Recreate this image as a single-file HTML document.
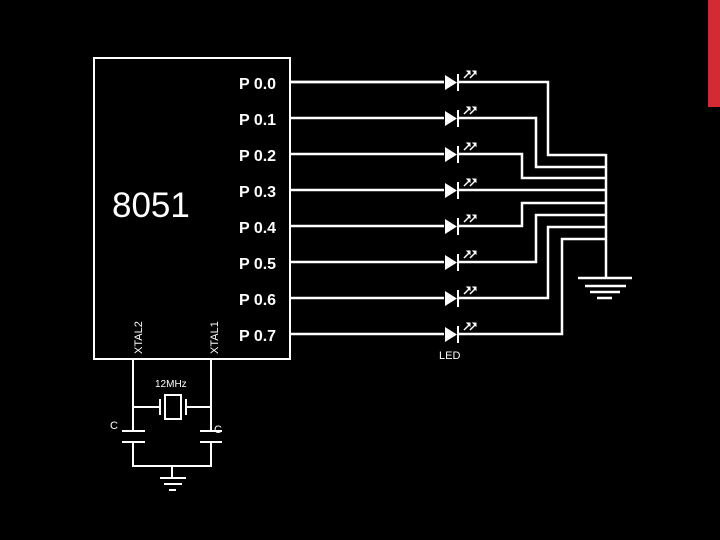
<!DOCTYPE html>
<html><head><meta charset="utf-8"><style>
html,body{margin:0;padding:0;background:#000;width:720px;height:540px;overflow:hidden}
svg{display:block}
text{font-family:"Liberation Sans",sans-serif;fill:#fff}
</style></head><body>
<svg width="720" height="540" viewBox="0 0 720 540" xmlns="http://www.w3.org/2000/svg">
<rect x="708" y="0" width="12" height="107" fill="#d42a34"/>
<rect x="94" y="58" width="196" height="301" fill="none" stroke="#fff" stroke-width="2"/>
<text x="112" y="217" font-size="35">8051</text>
<g font-size="16" font-weight="bold">
<text x="239" y="89">P 0.0</text><text x="239" y="125">P 0.1</text><text x="239" y="161">P 0.2</text><text x="239" y="197">P 0.3</text>
<text x="239" y="233">P 0.4</text><text x="239" y="269">P 0.5</text><text x="239" y="305">P 0.6</text><text x="239" y="341">P 0.7</text>
</g>
<text transform="translate(142,354) rotate(-90)" font-size="11">XTAL2</text>
<text transform="translate(218,354) rotate(-90)" font-size="11">XTAL1</text>
<g stroke="#fff" stroke-width="2.5" fill="none">
<polyline points="290,82 444,82 M458,82"/>
<path d="M290,82H444 M458,82H548V155H606"/>
<path d="M290,118H444 M458,118H536V167H606"/>
<path d="M290,154H444 M458,154H522V178H606"/>
<path d="M290,190H444 M458,190H606"/>
<path d="M290,226H444 M458,226H522V203H606"/>
<path d="M290,262H444 M458,262H536V215H606"/>
<path d="M290,298H444 M458,298H548V227H606"/>
<path d="M290,334H444 M458,334H562V239H606"/>
<path d="M606,154V278 M578,278H632 M585,286H626 M590,292H620 M597,298H612"/>
</g>
<g fill="#fff" stroke="#fff">
<g id="led">
<polygon points="445,75 445,90 457,82.5" stroke="none"/>
<line x1="458" y1="74" x2="458" y2="91" stroke-width="2"/>
<path d="M464,78 L470,72 M470,78 L476,72" stroke-width="1.5"/>
<path d="M467,71h3v3z M473,71h3v3z" stroke-width="1"/>
</g>
<use href="#led" y="36"/><use href="#led" y="72"/><use href="#led" y="108"/><use href="#led" y="144"/><use href="#led" y="180"/><use href="#led" y="216"/><use href="#led" y="252"/>
</g>
<text x="439" y="359" font-size="11">LED</text>
<g stroke="#fff" stroke-width="2" fill="none">
<path d="M133,359V431 M133,443V466H211V443 M211,431V359"/>
<path d="M122,431H145 M122,442H145 M200,431H222 M200,442H222"/>
<path d="M133,407H160 M160,399V415 M186,399V415 M186,407H211"/>
<rect x="165" y="395" width="16" height="24"/>
<path d="M172,466V478 M160,478H186 M164,484H182 M169,490H176"/>
</g>
<text x="155" y="387" font-size="10">12MHz</text>
<text x="110" y="429" font-size="11">C</text>
<text x="214" y="433" font-size="11">C</text>
</svg>
</body></html>
